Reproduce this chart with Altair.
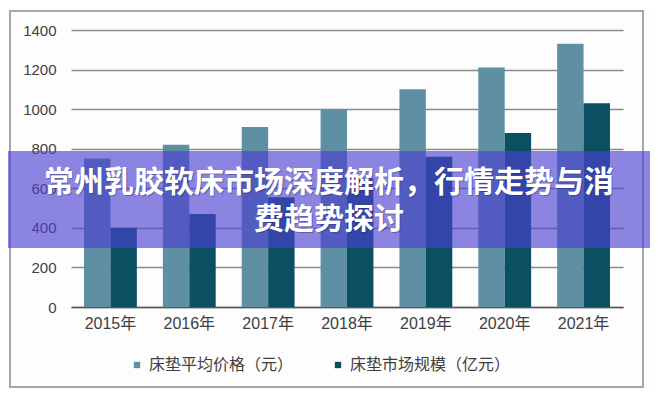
import altair as alt
import pandas as pd

# ---- data ----
years = ["2015年", "2016年", "2017年", "2018年", "2019年", "2020年", "2021年"]
series_names = ["床垫平均价格（元）", "床垫市场规模（亿元）"]
avg_price = [750, 820, 910, 1000, 1100, 1210, 1330]
market_size = [400, 470, 555, 650, 760, 880, 1030]
y_ticks = [0, 200, 400, 600, 800, 1000, 1200, 1400]
banner_lines = ["常州乳胶软床市场深度解析，行情走势与消", "费趋势探讨"]

colors = ["#5f8fa3", "#0b4f63"]

rows = []
for yr, p, s in zip(years, avg_price, market_size):
    rows.append({"year": yr, "series": series_names[0], "value": p})
    rows.append({"year": yr, "series": series_names[1], "value": s})
df = pd.DataFrame(rows)

W, H = 552, 277
cjk = "'Noto Sans CJK SC', sans-serif"
latin = "'Liberation Sans', 'Noto Sans CJK SC', sans-serif"

bars = alt.Chart(df).mark_bar().encode(
    x=alt.X(
        "year:N",
        sort=years,
        scale=alt.Scale(paddingInner=0.33, paddingOuter=0.165),
        axis=alt.Axis(
            title=None, labelAngle=0, ticks=False,
            domainColor="#595959", domainWidth=1.5,
            labelFontSize=16, labelColor="#404040", labelFont=latin,
            labelPadding=8,
        ),
    ),
    xOffset=alt.XOffset("series:N", sort=series_names),
    y=alt.Y(
        "value:Q",
        scale=alt.Scale(domain=[0, 1400]),
        axis=alt.Axis(
            values=y_ticks, format="d", title=None, domain=False, ticks=False,
            gridColor="#8a8a8a", gridWidth=1.5,
            labelFontSize=15, labelColor="#404040", labelFont=latin,
            labelPadding=15,
        ),
    ),
    color=alt.Color(
        "series:N",
        sort=series_names,
        scale=alt.Scale(domain=series_names, range=colors),
        legend=alt.Legend(
            title=None, orient="none", legendX=58, legendY=327,
            direction="horizontal", symbolType="square", symbolSize=40,
            symbolStrokeWidth=0, labelFontSize=16, labelFont=cjk,
            labelColor="#404040", columnPadding=36, labelOffset=4,
            labelLimit=400,
        ),
    ),
)

one = pd.DataFrame({"a": [0]})

border = alt.Chart(one).mark_rect(
    fillOpacity=0, stroke="#a6a6a6", strokeWidth=2
).encode(
    x=alt.value(-61), x2=alt.value(572), y=alt.value(-19), y2=alt.value(357)
)

banner = alt.Chart(one).mark_rect(
    color="#4b40d0", opacity=0.64
).encode(
    x=alt.value(-63), x2=alt.value(579), y=alt.value(121), y2=alt.value(218)
)

tdf = pd.DataFrame({"line": banner_lines, "i": [0, 1]})
ypos = alt.Y("i:Q", scale=alt.Scale(domain=[0, 1], range=[153, 190]), axis=None)
shadow = alt.Chart(tdf).mark_text(
    font=cjk, fontSize=30, fontWeight="bold", color="#1a1a50", opacity=0.35,
    align="center", baseline="middle", dx=1, dy=1,
).encode(text="line:N", x=alt.value(258), y=ypos)
title_text = alt.Chart(tdf).mark_text(
    font=cjk, fontSize=30, fontWeight="bold", color="white",
    align="center", baseline="middle",
).encode(text="line:N", x=alt.value(258), y=ypos)

chart = alt.layer(border, bars, banner, shadow, title_text).resolve_scale(
    y="independent"
).properties(
    width=W, height=H,
    autosize=alt.AutoSizeParams(type="none"),
    padding={"left": 63, "top": 22, "right": 27, "bottom": 82},
    background="#fdfdfd",
).configure_view(stroke=None)

chart.save("out.html", embed_options={"renderer": "svg", "actions": False})
